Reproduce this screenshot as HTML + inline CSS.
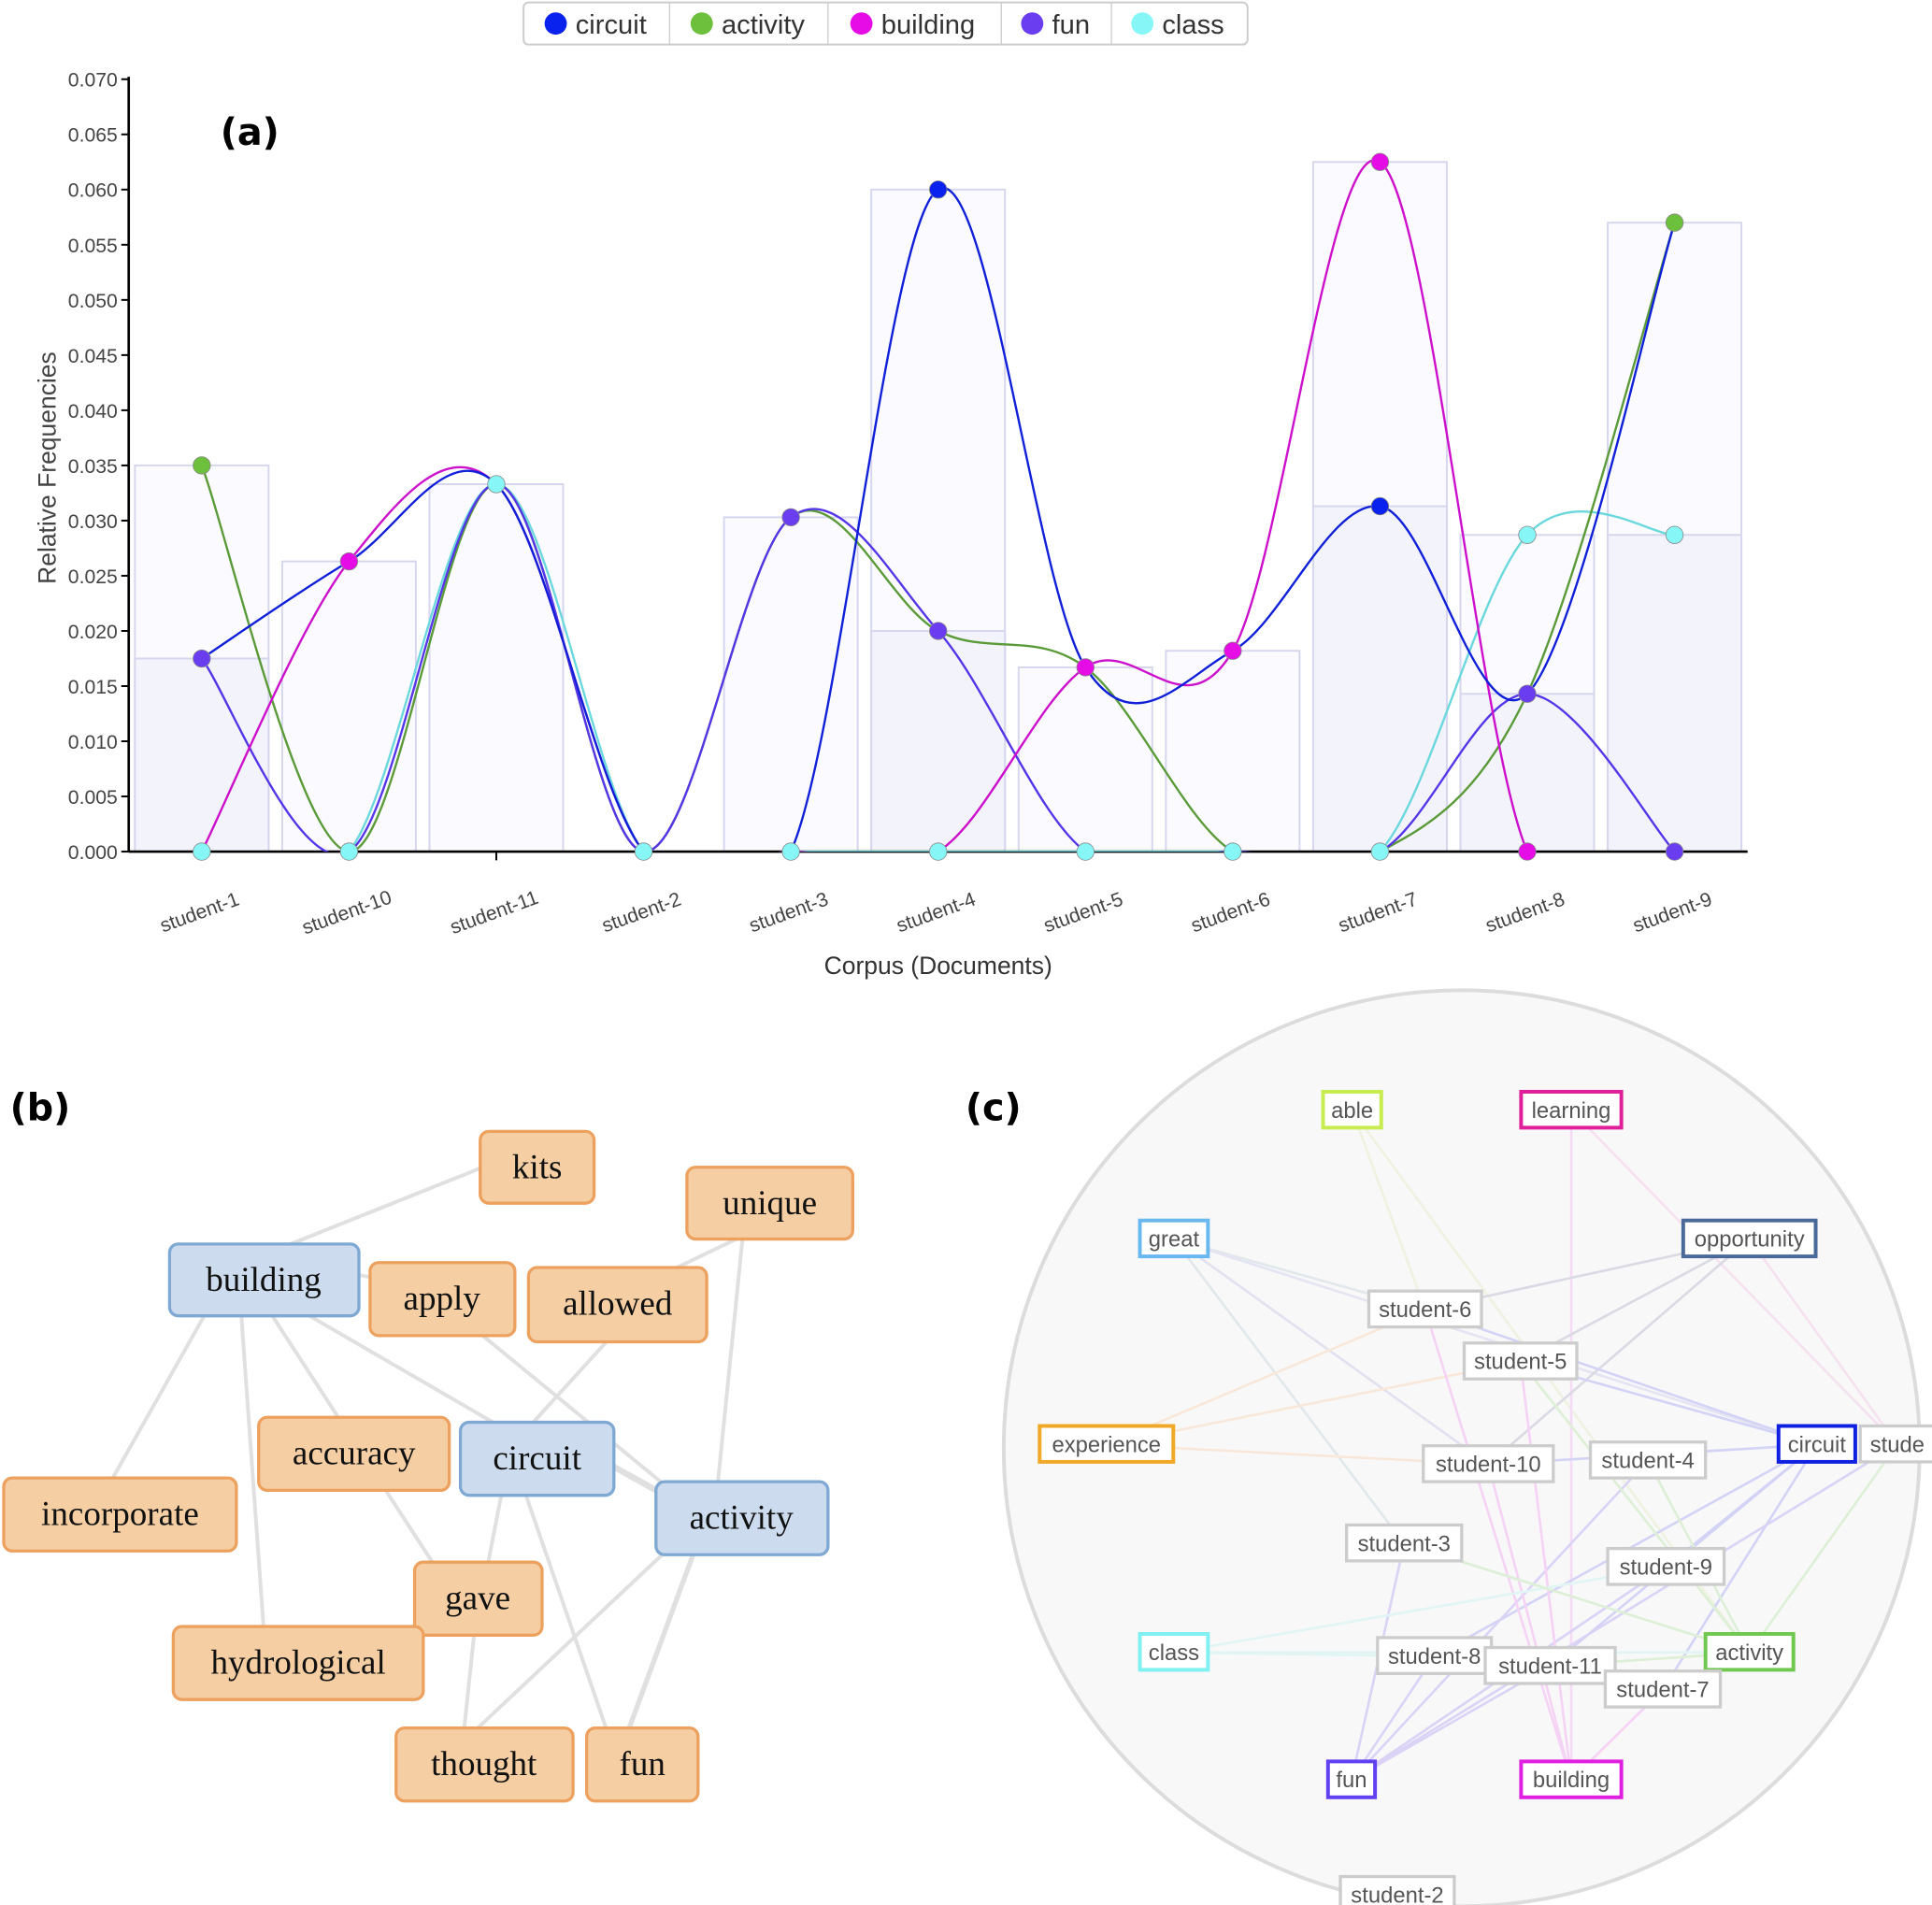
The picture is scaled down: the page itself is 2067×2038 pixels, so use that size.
<!DOCTYPE html>
<html><head><meta charset="utf-8"><style>
html,body{margin:0;padding:0;background:#fff;}
svg{display:block;}
.t{font-family:"Liberation Sans",sans-serif;}
.s{font-family:"Liberation Serif",serif;}
</style></head><body>
<svg id="svg" width="2067" height="2038" viewBox="0 0 1561 1539" preserveAspectRatio="none" xmlns="http://www.w3.org/2000/svg">
<defs><clipPath id="pc"><rect x="104" y="40" width="1320" height="648"/></clipPath></defs>
<g class="t" font-size="22" fill="#333">
<rect x="423" y="2" width="585" height="34" rx="4" fill="#fff" stroke="#ccc" stroke-width="1.5"/>
<line x1="541" y1="2" x2="541" y2="36" stroke="#ccc"/><line x1="669" y1="2" x2="669" y2="36" stroke="#ccc"/>
<line x1="809" y1="2" x2="809" y2="36" stroke="#ccc"/><line x1="898" y1="2" x2="898" y2="36" stroke="#ccc"/>
<circle cx="449" cy="19" r="9" fill="#0a22ee"/><text x="465" y="27">circuit</text>
<circle cx="567" cy="19" r="9" fill="#6cc03c"/><text x="583" y="27">activity</text>
<circle cx="696" cy="19" r="9" fill="#e60ce6"/><text x="712" y="27">building</text>
<circle cx="834" cy="19" r="9" fill="#6a3ef0"/><text x="850" y="27">fun</text>
<circle cx="923" cy="19" r="9" fill="#86f6f6"/><text x="939" y="27">class</text>
</g>
<text x="178" y="117" font-family="DejaVu Sans,sans-serif" font-weight="bold" font-size="30">(a)</text>
<g id="bars"></g>
<g id="axes" class="t" font-size="16" fill="#444"></g>
<g id="lines" clip-path="url(#pc)" fill="none" stroke-width="1.8"></g>
<g id="dots"></g>
<text class="t" x="0" y="0" font-size="20" fill="#444" transform="translate(45,378) rotate(-90)" text-anchor="middle">Relative Frequencies</text>
<text class="t" x="758" y="787" font-size="20" fill="#333" text-anchor="middle">Corpus (Documents)</text>

<text x="8" y="905" font-family="DejaVu Sans,sans-serif" font-weight="bold" font-size="30">(b)</text>
<g stroke="#e0e0e0" stroke-width="3">
<line x1="235" y1="1005" x2="390" y2="943"/>
<line x1="165" y1="1063" x2="90" y2="1196"/>
<line x1="195" y1="1063" x2="213" y2="1315"/>
<line x1="220" y1="1063" x2="350" y2="1263"/>
<line x1="250" y1="1063" x2="400" y2="1150"/>
<line x1="290" y1="1030" x2="300" y2="1032"/>
<line x1="390" y1="1079" x2="535" y2="1198"/>
<line x1="490" y1="1084" x2="430" y2="1150"/>
<line x1="597" y1="1000" x2="545" y2="1025"/>
<line x1="600" y1="1000" x2="580" y2="1198"/>
<line x1="496" y1="1185" x2="532" y2="1205" stroke-width="5"/>
<line x1="405" y1="1208" x2="383" y2="1321"/>
<line x1="425" y1="1208" x2="490" y2="1397"/>
<line x1="383" y1="1321" x2="375" y2="1397"/>
<line x1="535" y1="1256" x2="385" y2="1397"/>
<line x1="560" y1="1256" x2="508" y2="1397" stroke-width="4"/>
</g>
<g class="s" font-size="28" fill="#111" text-anchor="middle" stroke-width="2.5">
<rect x="388" y="914" width="92" height="58" rx="7" fill="#f5cfa3" stroke="#eda15f"/><text x="434" y="952">kits</text>
<rect x="555" y="943" width="134" height="58" rx="7" fill="#f5cfa3" stroke="#eda15f"/><text x="622" y="981">unique</text>
<rect x="137" y="1005" width="153" height="58" rx="7" fill="#ccdcee" stroke="#7fa9d3"/><text x="213" y="1043">building</text>
<rect x="299" y="1020" width="117" height="59" rx="7" fill="#f5cfa3" stroke="#eda15f"/><text x="357" y="1058">apply</text>
<rect x="427" y="1024" width="144" height="60" rx="7" fill="#f5cfa3" stroke="#eda15f"/><text x="499" y="1062">allowed</text>
<rect x="209" y="1145" width="154" height="59" rx="7" fill="#f5cfa3" stroke="#eda15f"/><text x="286" y="1183">accuracy</text>
<rect x="372" y="1149" width="124" height="59" rx="7" fill="#ccdcee" stroke="#7fa9d3"/><text x="434" y="1187">circuit</text>
<rect x="530" y="1197" width="139" height="59" rx="7" fill="#ccdcee" stroke="#7fa9d3"/><text x="599" y="1235">activity</text>
<rect x="3" y="1194" width="188" height="59" rx="7" fill="#f5cfa3" stroke="#eda15f"/><text x="97" y="1232">incorporate</text>
<rect x="335" y="1262" width="103" height="59" rx="7" fill="#f5cfa3" stroke="#eda15f"/><text x="386" y="1300">gave</text>
<rect x="140" y="1314" width="202" height="59" rx="7" fill="#f5cfa3" stroke="#eda15f"/><text x="241" y="1352">hydrological</text>
<rect x="320" y="1396" width="143" height="59" rx="7" fill="#f5cfa3" stroke="#eda15f"/><text x="391" y="1434">thought</text>
<rect x="474" y="1396" width="90" height="59" rx="7" fill="#f5cfa3" stroke="#eda15f"/><text x="519" y="1434">fun</text>
</g>

<text x="780" y="905" font-family="DejaVu Sans,sans-serif" font-weight="bold" font-size="30">(c)</text>
<circle cx="1181" cy="1170" r="370" fill="#f8f8f8" stroke="#dcdcdc" stroke-width="3"/>
<g id="cedges" stroke-width="2" opacity="0.2"></g>
<g id="cnodes" class="t" font-size="18" fill="#555" text-anchor="middle"></g>
</svg>
<script>
var NS="http://www.w3.org/2000/svg";
function el(p,tag,a,txt){var e=document.createElementNS(NS,tag);for(var k in a)e.setAttribute(k,a[k]);if(txt!==undefined)e.textContent=txt;document.getElementById(p).appendChild(e);return e;}
var X0=104,Y0=688,Y70=64;
function yv(v){return Y0-(v/0.07)*(Y0-Y70);}
var xs=[163,282,401,520,639,758,877,996,1115,1234,1353];
var names=["student-1","student-10","student-11","student-2","student-3","student-4","student-5","student-6","student-7","student-8","student-9"];
var bars=[[0.035,0.0175],[0.0263],[0.0333],[],[0.0303],[0.060,0.020],[0.0167],[0.0182],[0.0625,0.0313],[0.0287,0.0143],[0.057,0.0287]];
bars.forEach(function(b,i){b.forEach(function(v,j){el("bars","rect",{x:xs[i]-54,y:yv(v),width:108,height:Y0-yv(v),fill:j==0?"#fbfbff":"#f3f3fb",stroke:"#d6d6ee","stroke-width":1.5});});});
el("axes","line",{x1:X0,y1:62,x2:X0,y2:Y0,stroke:"#000","stroke-width":2});
el("axes","line",{x1:X0,y1:Y0,x2:1412,y2:Y0,stroke:"#000","stroke-width":2});
for(var i=0;i<=14;i++){var v=i*0.005,y=yv(v);el("axes","line",{x1:X0-6,y1:y,x2:X0,y2:y,stroke:"#000","stroke-width":1.5});el("axes","text",{x:X0-9,y:y+6,"text-anchor":"end"},v.toFixed(3));}
xs.forEach(function(x,i){el("axes","line",{x1:x,y1:Y0,x2:x,y2:Y0+7,stroke:"#000","stroke-width":1.5});el("axes","text",{x:0,y:0,"text-anchor":"middle",transform:"translate("+x+",742) rotate(-20)"},names[i]);});
var S={
circuit:["#1020d8",[0.0175,0.0263,0.0333,0,0,0.060,0.0167,0.0182,0.0313,0.0143,0.057]],
activity:["#5a9a38",[0.035,0,0.0333,0,0.0303,0.020,0.0167,0,0,0.0143,0.057]],
building:["#cc10cc",[0,0.0263,0.0333,0,0,0,0.0167,0.0182,0.0625,0,0]],
fun:["#5535e8",[0.0175,0,0.0333,0,0.0303,0.020,0,0,0,0.0143,0]],
cls:["#6ad8dc",[0,0,0.0333,0,0,0,0,0,0,0.0287,0.0287]]};
function path(vals){var p=xs.map(function(x,i){return [x,yv(vals[i])];});var d="M"+p[0][0]+","+p[0][1];
for(var i=0;i<p.length-1;i++){var p0=p[i-1]||p[i],p1=p[i],p2=p[i+1],p3=p[i+2]||p[i+1];
d+=" C"+(p1[0]+(p2[0]-p0[0])/6)+","+(p1[1]+(p2[1]-p0[1])/6)+" "+(p2[0]-(p3[0]-p1[0])/6)+","+(p2[1]-(p3[1]-p1[1])/6)+" "+p2[0]+","+p2[1];}return d;}
["cls","activity","fun","building","circuit"].forEach(function(k){el("lines","path",{d:path(S[k][1]),stroke:S[k][0]});});
var dotc={c:"#0a22ee",a:"#6cc03c",b:"#e60ce6",f:"#6a3ef0",l:"#86f6f6"};
var dots=[[0,0.035,"a"],[0,0.0175,"f"],[0,0,"l"],[1,0.0263,"b"],[1,0,"l"],[2,0.0333,"l"],[3,0,"l"],[4,0.0303,"f"],[4,0,"l"],[5,0.060,"c"],[5,0.020,"f"],[5,0,"l"],[6,0.0167,"b"],[6,0,"l"],[7,0.0182,"b"],[7,0,"l"],[8,0.0625,"b"],[8,0.0313,"c"],[8,0,"l"],[9,0.0287,"l"],[9,0.0143,"f"],[9,0,"b"],[10,0.057,"a"],[10,0.0287,"l"],[10,0,"f"]];
dots.forEach(function(d){el("dots","circle",{cx:xs[d[0]],cy:yv(d[1]),r:7,fill:dotc[d[2]],stroke:"#888","stroke-width":0.6});});
var N={able:[1069,882,47,"#c8ec50"],learning:[1229,882,81,"#e0209a"],great:[921,986,55,"#6ab8f0"],opportunity:[1360,986,107,"#4a6a9a"],
"student-6":[1106,1043,91],"student-5":[1183,1085,91],experience:[840,1152,108,"#f0a828"],"student-10":[1150,1168,105],"student-4":[1285,1165,93],
circuit:[1437,1152,62,"#1020e0"],stude:[1503,1152,60],"student-3":[1088,1232,93],"student-9":[1299,1251,94],class:[921,1320,55,"#80f0f0"],
"student-8":[1113,1323,92],"student-11":[1200,1331,105],activity:[1378,1320,71,"#70c850"],"student-7":[1297,1350,93],fun:[1073,1423,38,"#6040f0"],
building:[1229,1423,81,"#e020e0"],"student-2":[1083,1516,92]};
function c(n){var a=N[n];return [a[0]+a[2]/2,a[1]+15];}
var E=[["great","student-6","#8ab"],["great","student-10","#88c"],["great","student-3","#8ab"],["great","circuit","#99d"],["able","student-6","#cd8"],["able","activity","#cd8"],
["learning","building","#e6e"],["learning","stude","#e8c"],["opportunity","student-6","#669"],["opportunity","student-10","#669"],["opportunity","student-5","#669"],["opportunity","stude","#e8c"],
["experience","student-6","#fa6"],["experience","student-5","#fa6"],["experience","student-10","#fa6"],["circuit","student-10","#44e"],["circuit","student-5","#44e"],["circuit","student-6","#44e"],
["circuit","student-8","#44e"],["circuit","student-11","#44e"],["circuit","student-9","#44e"],["circuit","student-7","#44e"],["fun","student-3","#64e"],["fun","student-8","#64e"],["fun","student-11","#64e"],["fun","student-9","#64e"],["fun","student-4","#64e"],["fun","stude","#64e"],
["building","student-6","#e4e"],["building","student-10","#e4e"],["building","student-7","#e4e"],["building","student-5","#e4e"],["class","student-8","#8ee"],["class","student-9","#8ee"],["class","activity","#8ee"],
["activity","student-3","#7c5"],["activity","student-4","#7c5"],["activity","student-5","#7c5"],["activity","stude","#7c5"],["activity","student-11","#7c5"]];
E.forEach(function(e){var a=c(e[0]),b=c(e[1]);el("cedges","line",{x1:a[0],y1:a[1],x2:b[0],y2:b[1],stroke:e[2]});});
for(var k in N){var a=N[k];el("cnodes","rect",{x:a[0],y:a[1],width:a[2],height:29,fill:"#fff",stroke:a[3]||"#ccc","stroke-width":a[3]?3:2.5});el("cnodes","text",{x:a[0]+a[2]/2,y:a[1]+21},k);}
</script>
</body></html>
